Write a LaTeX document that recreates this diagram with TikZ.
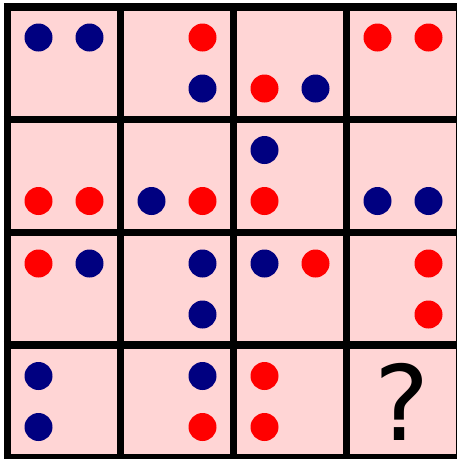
\documentclass[tikz,border=0pt]{standalone}
\usepackage{fontspec}
\newfontfamily\qfont{DejaVu Sans}
\definecolor{cellpink}{HTML}{FFD5D5}
\definecolor{dotred}{HTML}{FF0000}
\definecolor{dotnavy}{HTML}{000080}
\tikzset{
  dotR/.style={circle,fill=dotred,inner sep=0pt,minimum size=28pt},
  dotN/.style={circle,fill=dotnavy,inner sep=0pt,minimum size=28pt},
  gridline/.style={line width=7.5pt,black}
}
\begin{document}
\begin{tikzpicture}[x=1pt,y=-1pt]
\useasboundingbox (0,0) rectangle (457,459);
\clip (0,0) rectangle (457,459);
\fill[white] (0,0) rectangle (457,459);
\fill[cellpink] (7.5,7) rectangle (459.5,458);
% row 0
\node[dotN] (a1) at (38.5,37.5) {};
\node[dotN] (a2) at (89.5,37.5) {};
\node[dotR] (b1) at (202.5,37.5) {};
\node[dotN] (b2) at (202.5,88.5) {};
\node[dotR] (c1) at (264.5,88.5) {};
\node[dotN] (c2) at (315.5,88.5) {};
\node[dotR] (d1) at (377.5,37.5) {};
\node[dotR] (d2) at (428.5,37.5) {};
% row 1
\node[dotR] (e1) at (38.5,201) {};
\node[dotR] (e2) at (89.5,201) {};
\node[dotN] (f1) at (151.5,201) {};
\node[dotR] (f2) at (202.5,201) {};
\node[dotN] (g1) at (264.5,150) {};
\node[dotR] (g2) at (264.5,201) {};
\node[dotN] (h1) at (377.5,201) {};
\node[dotN] (h2) at (428.5,201) {};
% row 2
\node[dotR] (i1) at (38.5,263.5) {};
\node[dotN] (i2) at (89.5,263.5) {};
\node[dotN] (j1) at (202.5,263.5) {};
\node[dotN] (j2) at (202.5,314.5) {};
\node[dotN] (k1) at (264.5,263.5) {};
\node[dotR] (k2) at (315.5,263.5) {};
\node[dotR] (l1) at (428.5,263.5) {};
\node[dotR] (l2) at (428.5,314.5) {};
% row 3
\node[dotN] (m1) at (38.5,376) {};
\node[dotN] (m2) at (38.5,427) {};
\node[dotN] (n1) at (202.5,376) {};
\node[dotR] (n2) at (202.5,427) {};
\node[dotR] (o1) at (264.5,376) {};
\node[dotR] (o2) at (264.5,427) {};
\node[inner sep=0pt] (q) at (402.5,402) {\qfont\fontsize{104}{104}\selectfont ?};
% grid lines
\foreach \x in {7.5,120.5,233.5,346.5,459.5} \draw[gridline] (\x,3.25) -- (\x,462);
\foreach \y in {7,119.7,232.4,345.1,458} \draw[gridline] (3.75,\y) -- (463,\y);
\end{tikzpicture}
\end{document}
